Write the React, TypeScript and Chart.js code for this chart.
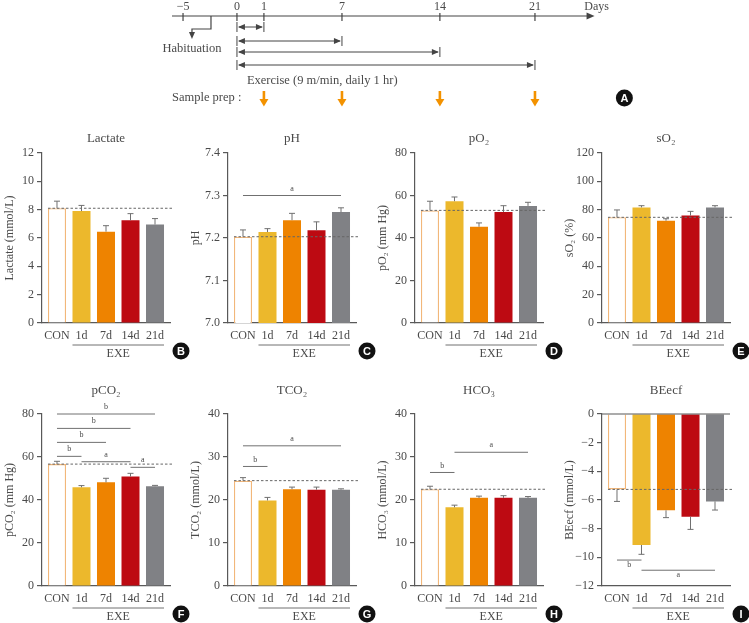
import React, { useEffect, useRef } from 'react';
import { Chart, registerables } from 'chart.js';

Chart.register(...registerables);

const SERIF = "'Liberation Serif', 'Times New Roman', serif";
const SANS = "'Liberation Sans', Arial, sans-serif";
const AXIS = '#595959';
const TEXT = '#4a4a4a';
const LINE = '#707070';

// ---------- data ----------
const groups = ['CON', '1d', '7d', '14d', '21d'];
const groupFill = ['#FFFFFF', '#ECB82C', '#EE8300', '#BD0A12', '#808185'];
const groupEdge = ['#F2B77A', '#ECB82C', '#EE8300', '#BD0A12', '#808185'];
const groupEdgeWidth = [1.3, 0, 0, 0, 0];

const lactateMean = [8.1, 7.9, 6.45, 7.25, 6.95];
const lactateSem = [0.5, 0.4, 0.42, 0.47, 0.42];
const phMean = [7.203, 7.214, 7.242, 7.218, 7.261];
const phSem = [0.016, 0.008, 0.016, 0.02, 0.01];
const po2Mean = [53.0, 57.3, 45.3, 52.2, 55.1];
const po2Sem = [4.3, 2.0, 1.8, 3.0, 1.7];
const so2Mean = [74.6, 81.6, 72.2, 75.8, 81.6];
const so2Sem = [5.2, 1.2, 1.4, 3.0, 1.2];
const pco2Mean = [56.7, 45.9, 48.2, 50.9, 46.4];
const pco2Sem = [1.3, 0.8, 1.9, 1.5, 0.4];
const tco2Mean = [24.5, 19.9, 22.5, 22.4, 22.4];
const tco2Sem = [0.7, 0.7, 0.5, 0.6, 0.2];
const hco3Mean = [22.5, 18.3, 20.5, 20.5, 20.5];
const hco3Sem = [0.7, 0.5, 0.4, 0.5, 0.3];
const beecfMean = [-5.26, -9.14, -6.72, -7.16, -6.1];
const beecfSem = [0.84, 0.65, 0.51, 0.89, 0.6];

type Sig = [number, number, number, string];
const phSig: Sig[] = [[0, 4, 7.3, 'a']];
const pco2Sig: Sig[] = [
  [0, 4, 80, 'b'],
  [0, 3, 73.3, 'b'],
  [0, 2, 66.8, 'b'],
  [0, 1, 60.3, 'b'],
  [1, 3, 57.8, 'a'],
  [3, 4, 55.2, 'a'],
];
const tco2Sig: Sig[] = [[0, 4, 32.6, 'a'], [0, 1, 27.8, 'b']];
const hco3Sig: Sig[] = [[0, 1, 26.4, 'b'], [1, 4, 31.1, 'a']];
const beecfSig: Sig[] = [[0, 1, -10.19, 'b'], [1, 4, -10.9, 'a']];

// timeline (schematic positions of the day ticks)
const timelineDays = ['\u22125', '0', '1', '7', '14', '21'];
const timelinePos = [-3.8, 0, 1.9, 7.4, 14.3, 21];
const exerciseEndIdx = [2, 3, 4, 5];
const samplePrepIdx = [2, 3, 4, 5];
const habituationPos = -1.83;
const habituationArrowPos = -3.17;

interface Panel {
  title: string;
  yLabel: string;
  mean: number[];
  sem: number[];
  min: number;
  max: number;
  step: number;
  decimals: number;
  sig: Sig[];
  sigBelow?: boolean;
  letter: string;
  col: number;
  row: number;
}

const panels: Panel[] = [
  { title: 'Lactate', yLabel: 'Lactate (mmol/L)', mean: lactateMean, sem: lactateSem, min: 0, max: 12, step: 2, decimals: 0, sig: [], letter: 'B', col: 0, row: 0 },
  { title: 'pH', yLabel: 'pH', mean: phMean, sem: phSem, min: 7.0, max: 7.4, step: 0.1, decimals: 1, sig: phSig, letter: 'C', col: 1, row: 0 },
  { title: 'pO\u2082', yLabel: 'pO\u2082 (mm Hg)', mean: po2Mean, sem: po2Sem, min: 0, max: 80, step: 20, decimals: 0, sig: [], letter: 'D', col: 2, row: 0 },
  { title: 'sO\u2082', yLabel: 'sO\u2082 (%)', mean: so2Mean, sem: so2Sem, min: 0, max: 120, step: 20, decimals: 0, sig: [], letter: 'E', col: 3, row: 0 },
  { title: 'pCO\u2082', yLabel: 'pCO\u2082 (mm Hg)', mean: pco2Mean, sem: pco2Sem, min: 0, max: 80, step: 20, decimals: 0, sig: pco2Sig, letter: 'F', col: 0, row: 1 },
  { title: 'TCO\u2082', yLabel: 'TCO\u2082 (mmol/L)', mean: tco2Mean, sem: tco2Sem, min: 0, max: 40, step: 10, decimals: 0, sig: tco2Sig, letter: 'G', col: 1, row: 1 },
  { title: 'HCO\u2083', yLabel: 'HCO\u2083 (mmol/L)', mean: hco3Mean, sem: hco3Sem, min: 0, max: 40, step: 10, decimals: 0, sig: hco3Sig, letter: 'H', col: 2, row: 1 },
  { title: 'BEecf', yLabel: 'BEecf (mmol/L)', mean: beecfMean, sem: beecfSem, min: -12, max: 0, step: 2, decimals: 0, sig: beecfSig, sigBelow: true, letter: 'I', col: 3, row: 1 },
];

const colLeft = [0, 186, 373, 560];
const rowTop = [125, 380];
const rowHeight = [240, 243];
const rowPadTop = [28, 34];
const rowXAxisH = [42, 37];
const rowTitleGap = [14, 23];

function drawLetter(ctx: CanvasRenderingContext2D, letter: string, cx: number, cy: number) {
  ctx.save();
  ctx.fillStyle = '#111';
  ctx.beginPath();
  ctx.arc(cx, cy, 8.5, 0, Math.PI * 2);
  ctx.fill();
  ctx.fillStyle = '#fff';
  ctx.font = `bold 11px ${SANS}`;
  ctx.textAlign = 'center';
  ctx.textBaseline = 'middle';
  ctx.fillText(letter, cx, cy + 0.5);
  ctx.restore();
}

function seg(ctx: CanvasRenderingContext2D, x0: number, y0: number, x1: number, y1: number) {
  ctx.beginPath();
  ctx.moveTo(x0, y0);
  ctx.lineTo(x1, y1);
  ctx.stroke();
}

function makeOverlay(p: Panel) {
  return {
    id: 'panelOverlay',
    afterDatasetsDraw(chart: any) {
      const { ctx, chartArea: a } = chart;
      const x = chart.scales.x;
      const y = chart.scales.y;
      const meta = chart.getDatasetMeta(0);
      ctx.save();
      // reference dashed line at control value
      const b0: any = meta.data[0];
      const yRef = y.getPixelForValue(p.mean[0]);
      ctx.strokeStyle = '#666';
      ctx.lineWidth = 1;
      ctx.setLineDash([2.5, 2]);
      seg(ctx, b0.x - b0.width / 2, yRef, a.right + 2, yRef);
      ctx.setLineDash([]);
      // error bars
      ctx.strokeStyle = LINE;
      ctx.lineWidth = 1;
      p.mean.forEach((m, i) => {
        const bx = meta.data[i].x;
        const dir = m < 0 ? -1 : 1;
        const y0 = y.getPixelForValue(m);
        const y1 = y.getPixelForValue(m + dir * p.sem[i]);
        seg(ctx, bx, y0, bx, y1);
        seg(ctx, bx - 3, y1, bx + 3, y1);
      });
      // significance bars
      ctx.fillStyle = TEXT;
      ctx.font = `8px ${SERIF}`;
      ctx.textAlign = 'center';
      ctx.textBaseline = 'middle';
      p.sig.forEach(([i0, i1, v, lab]) => {
        const x0 = x.getPixelForValue(i0);
        const x1 = x.getPixelForValue(i1);
        const yy = y.getPixelForValue(v);
        seg(ctx, x0, yy, x1, yy);
        ctx.fillText(lab, (x0 + x1) / 2, yy + (p.sigBelow ? 5 : -7));
      });
      ctx.restore();
    },
    afterDraw(chart: any) {
      const { ctx, chartArea: a } = chart;
      const meta = chart.getDatasetMeta(0);
      ctx.save();
      ctx.fillStyle = TEXT;
      ctx.textAlign = 'center';
      ctx.textBaseline = 'middle';
      ctx.font = `13px ${SERIF}`;
      ctx.fillText(p.title, (a.left + a.right) / 2, a.top - rowTitleGap[p.row]);
      // y axis title
      ctx.save();
      ctx.font = `12px ${SERIF}`;
      ctx.translate(a.left - 32, (a.top + a.bottom) / 2);
      ctx.rotate(-Math.PI / 2);
      ctx.fillText(p.yLabel, 0, 0);
      ctx.restore();
      // zero line on top for negative panels
      if (p.max === 0) {
        ctx.strokeStyle = AXIS;
        ctx.lineWidth = 1.2;
        seg(ctx, a.left, a.top, a.right, a.top);
      }
      // EXE bracket
      const b1: any = meta.data[1];
      const b4: any = meta.data[4];
      const ex0 = b1.x - b1.width / 2;
      const ex1 = b4.x + b4.width / 2;
      ctx.strokeStyle = LINE;
      ctx.lineWidth = 1;
      seg(ctx, ex0, a.bottom + 22, ex1, a.bottom + 22);
      ctx.font = `12px ${SERIF}`;
      ctx.fillText('EXE', (ex0 + ex1) / 2, a.bottom + 31);
      ctx.restore();
      drawLetter(ctx, p.letter, a.right + 11, a.bottom + 28);
    },
  };
}

function BarPanel({ p }: { p: Panel }) {
  const ref = useRef<HTMLCanvasElement>(null);
  const H = rowHeight[p.row];
  useEffect(() => {
    const chart = new Chart(ref.current as HTMLCanvasElement, {
      type: 'bar',
      data: {
        datasets: [
          {
            data: p.mean.map((v, i) => ({ x: i, y: v })) as any,
            backgroundColor: groupFill,
            borderColor: groupEdge,
            borderWidth: groupEdgeWidth,
            barPercentage: 0.735,
            categoryPercentage: 1,
          },
        ],
      },
      options: {
        responsive: false,
        animation: false,
        devicePixelRatio: 1,
        layout: { padding: { top: rowPadTop[p.row], right: 30, left: 0, bottom: 0 } },
        plugins: { legend: { display: false }, tooltip: { enabled: false }, title: { display: false } },
        scales: {
          x: {
            type: 'linear',
            min: -0.612,
            max: 4.612,
            offset: false,
            afterBuildTicks: (s: any) => {
              s.ticks = groups.map((_, i) => ({ value: i }));
            },
            afterFit: (s: any) => {
              s.height = rowXAxisH[p.row];
            },
            ticks: {
              autoSkip: false,
              maxRotation: 0,
              padding: 6,
              color: TEXT,
              font: { family: SERIF, size: 12 },
              callback: (v: any) => groups[v as number] ?? '',
            },
            grid: { display: false, drawTicks: false },
            border: { display: true, color: AXIS, width: 1.2 },
          },
          y: {
            min: p.min,
            max: p.max,
            afterFit: (s: any) => {
              s.width = 42;
            },
            ticks: {
              stepSize: p.step,
              padding: 3,
              color: TEXT,
              font: { family: SERIF, size: 12 },
              callback: (v: any) => {
                const n = Number(v);
                const s = Math.abs(n).toFixed(p.decimals);
                return n < 0 ? '\u2212' + s : s;
              },
            },
            grid: { display: true, drawOnChartArea: false, drawTicks: true, tickLength: 5, color: AXIS, lineWidth: 1.2 },
            border: { display: true, color: AXIS, width: 1.2 },
          },
        },
      } as any,
      plugins: [makeOverlay(p)],
    });
    return () => chart.destroy();
  }, [p]);
  return (
    <canvas
      ref={ref}
      width={200}
      height={H}
      style={{ position: 'absolute', left: colLeft[p.col], top: rowTop[p.row], width: 200, height: H }}
    />
  );
}

const timelinePlugin = {
  id: 'timeline',
  afterDraw(chart: any) {
    const { ctx } = chart;
    const x = chart.scales.x;
    const px = (v: number) => x.getPixelForValue(v);
    const axY = 16;
    ctx.save();
    ctx.strokeStyle = '#444';
    ctx.fillStyle = '#444';
    ctx.lineWidth = 1.2;
    // main axis with arrow
    const xStart = px(-4.58);
    const xEnd = px(25.2);
    seg(ctx, xStart, axY, xEnd - 4, axY);
    ctx.beginPath();
    ctx.moveTo(xEnd, axY);
    ctx.lineTo(xEnd - 8, axY - 3.5);
    ctx.lineTo(xEnd - 8, axY + 3.5);
    ctx.closePath();
    ctx.fill();
    // ticks + labels
    ctx.font = `12px ${SERIF}`;
    ctx.textAlign = 'center';
    ctx.textBaseline = 'middle';
    ctx.fillStyle = TEXT;
    timelinePos.forEach((pos, i) => {
      const tx = px(pos);
      seg(ctx, tx, axY - 3, tx, axY + 5);
      ctx.fillText(timelineDays[i], tx, 7);
    });
    ctx.fillText('Days', xEnd + 2, 7);
    // habituation elbow arrow
    const hx = px(habituationPos);
    const hax = px(habituationArrowPos);
    ctx.beginPath();
    ctx.moveTo(hx, axY);
    ctx.lineTo(hx, 29);
    ctx.lineTo(hax, 29);
    ctx.lineTo(hax, 33);
    ctx.stroke();
    ctx.fillStyle = '#444';
    ctx.beginPath();
    ctx.moveTo(hax, 39);
    ctx.lineTo(hax - 3, 32);
    ctx.lineTo(hax + 3, 32);
    ctx.closePath();
    ctx.fill();
    ctx.fillStyle = TEXT;
    ctx.font = `12.5px ${SERIF}`;
    ctx.fillText('Habituation', hax, 49);
    // exercise brackets
    const rowsY = [27, 41, 52, 65];
    const x0 = px(0);
    ctx.lineWidth = 1;
    ctx.fillStyle = '#444';
    exerciseEndIdx.forEach((idx, r) => {
      const yy = rowsY[r];
      const x1 = px(timelinePos[idx]);
      seg(ctx, x0, yy - 5, x0, yy + 5);
      seg(ctx, x1, yy - 5, x1, yy + 5);
      seg(ctx, x0 + 2, yy, x1 - 2, yy);
      ctx.beginPath();
      ctx.moveTo(x0 + 1, yy);
      ctx.lineTo(x0 + 8, yy - 3);
      ctx.lineTo(x0 + 8, yy + 3);
      ctx.closePath();
      ctx.fill();
      ctx.beginPath();
      ctx.moveTo(x1 - 1, yy);
      ctx.lineTo(x1 - 8, yy - 3);
      ctx.lineTo(x1 - 8, yy + 3);
      ctx.closePath();
      ctx.fill();
    });
    ctx.fillStyle = TEXT;
    ctx.textAlign = 'left';
    ctx.font = `12.5px ${SERIF}`;
    ctx.fillText('Exercise (9 m/min, daily 1 hr)', px(0.7), 81);
    ctx.fillText('Sample prep :', xStart, 98);
    // orange sample arrows
    ctx.fillStyle = '#F39200';
    ctx.strokeStyle = '#F39200';
    ctx.lineWidth = 2.6;
    samplePrepIdx.forEach((idx) => {
      const ax = px(timelinePos[idx]);
      seg(ctx, ax, 91, ax, 100);
      ctx.beginPath();
      ctx.moveTo(ax, 106.5);
      ctx.lineTo(ax - 4.5, 99);
      ctx.lineTo(ax + 4.5, 99);
      ctx.closePath();
      ctx.fill();
    });
    ctx.restore();
    drawLetter(ctx, 'A', px(27.3), 98);
  },
};

function Timeline() {
  const ref = useRef<HTMLCanvasElement>(null);
  useEffect(() => {
    const chart = new Chart(ref.current as HTMLCanvasElement, {
      type: 'scatter',
      data: { datasets: [] },
      options: {
        responsive: false,
        animation: false,
        devicePixelRatio: 1,
        layout: { padding: { left: 166, right: 114.7, top: 0, bottom: 0 } },
        plugins: { legend: { display: false }, tooltip: { enabled: false } },
        scales: {
          x: { type: 'linear', min: -5, max: 28, display: false },
          y: { type: 'linear', min: 0, max: 1, display: false },
        },
      } as any,
      plugins: [timelinePlugin],
    });
    return () => chart.destroy();
  }, []);
  return (
    <canvas ref={ref} width={749} height={125} style={{ position: 'absolute', left: 0, top: 0, width: 749, height: 125 }} />
  );
}

export default function App() {
  useEffect(() => {
    document.body.style.margin = '0';
  }, []);
  return (
    <div style={{ position: 'absolute', left: 0, top: 0, width: 749, height: 623, overflow: 'hidden', background: '#fff' }}>
      <Timeline />
      {panels.map((p) => (
        <BarPanel key={p.letter} p={p} />
      ))}
    </div>
  );
}
